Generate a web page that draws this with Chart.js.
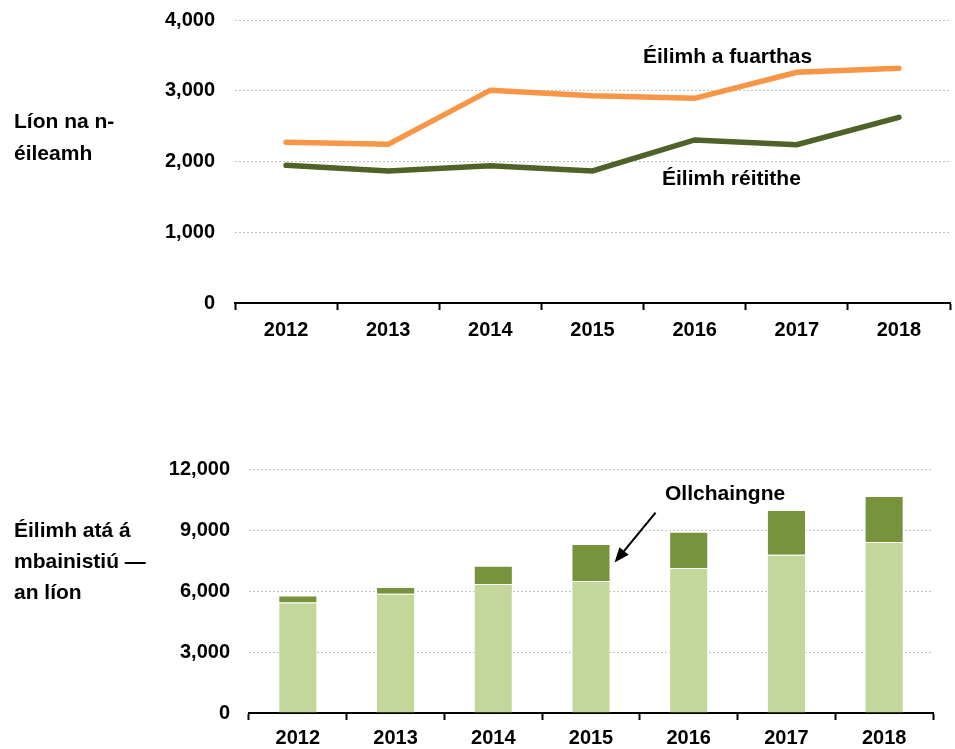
<!DOCTYPE html>
<html>
<head>
<meta charset="utf-8">
<script src="https://cdn.jsdelivr.net/npm/chart.js@4"></script>
<style>
  body { margin: 0; background: #fff; width: 955px; height: 749px; position: relative; overflow: hidden;
         font-family: Arial, "Liberation Sans", sans-serif; font-weight: bold; color: #000; }
  .box { position: absolute; }
  .lbl { position: absolute; font-size: 21px; white-space: nowrap; }
</style>
</head>
<body>
<div class="box" style="left:0;top:0;width:955px;height:345px"><canvas id="topChart"></canvas></div>
<div class="box" style="left:0;top:440px;width:955px;height:309px"><canvas id="bottomChart"></canvas></div>

<div class="lbl" style="left:14px;top:105px;line-height:32px">Líon na n-<br>éileamh</div>
<div class="lbl" style="left:14px;top:514px;line-height:31px">Éilimh atá á<br>mbainistiú —<br>an líon</div>
<div class="lbl" style="left:643px;top:44px;line-height:24px">Éilimh a fuarthas</div>
<div class="lbl" style="left:662px;top:166px;line-height:24px">Éilimh réitithe</div>
<div class="lbl" style="left:665px;top:481px;line-height:24px">Ollchaingne</div>

<script>
const years = ['2012', '2013', '2014', '2015', '2016', '2017', '2018'];

// top chart: claims received / resolved
const received = [2271, 2243, 3008, 2928, 2893, 3261, 3317];
const resolved = [1946, 1866, 1940, 1866, 2304, 2238, 2625];

// bottom chart: claims under management
const managedBase = [5430, 5860, 6340, 6490, 7130, 7780, 8410];
const bulk = [350, 340, 900, 1820, 1790, 2200, 2260];

Chart.defaults.font.family = 'Arial, "Liberation Sans", sans-serif';
Chart.defaults.font.weight = 'bold';
Chart.defaults.font.size = 20;
Chart.defaults.color = '#000';
Chart.defaults.animation = false;

const gridGrey = '#c3c3c3';

function xAxis(height, pad) {
  return {
    offset: true,
    grid: { offset: true, drawOnChartArea: false, drawTicks: true, tickLength: 7,
            tickColor: '#000', tickWidth: 2 },
    border: { display: true, color: '#000', width: 2 },
    ticks: { padding: pad, maxRotation: 0, autoSkip: false },
    afterFit: (s) => { s.height = height; }
  };
}

function yAxis(max, step, width, pad) {
  return {
    min: 0, max: max,
    ticks: { stepSize: step, padding: pad },
    grid: { color: gridGrey, lineWidth: 1, drawTicks: false },
    border: { display: false, dash: [2, 2] },
    // fixed width; let layout.padding decide where the plot top sits
    afterFit: (s) => { s.width = width; s.paddingTop = 0; s.paddingBottom = 0; }
  };
}

new Chart(document.getElementById('topChart'), {
  type: 'line',
  data: {
    labels: years,
    datasets: [
      { label: 'Éilimh a fuarthas', data: received, borderColor: '#F79646',
        borderWidth: 5.5, pointRadius: 0, tension: 0, borderCapStyle: 'round' },
      { label: 'Éilimh réitithe', data: resolved, borderColor: '#4F6228',
        borderWidth: 5.5, pointRadius: 0, tension: 0, borderCapStyle: 'round' }
    ]
  },
  options: {
    responsive: true,
    maintainAspectRatio: false,
    layout: { padding: { left: 150, right: 5, top: 20, bottom: 0 } },
    plugins: { legend: { display: false }, tooltip: { enabled: false } },
    scales: {
      x: xAxis(42, 8),
      y: yAxis(4000, 1000, 85, 20)
    }
  }
});

// arrow from the "Ollchaingne" label to the 2015 bulk segment
const arrowPlugin = {
  id: 'arrow',
  afterDraw(chart) {
    const bar = chart.getDatasetMeta(1).data[3];
    if (!bar) return;
    const tipX = bar.x + bar.width / 2 + 4;
    const tipY = (bar.y + bar.base) / 2;
    const fromX = tipX + 41, fromY = tipY - 50;
    const ang = Math.atan2(tipY - fromY, tipX - fromX);
    const ctx = chart.ctx;
    ctx.save();
    ctx.strokeStyle = '#000';
    ctx.fillStyle = '#000';
    ctx.lineWidth = 2;
    ctx.beginPath();
    ctx.moveTo(fromX, fromY);
    ctx.lineTo(tipX - 10 * Math.cos(ang), tipY - 10 * Math.sin(ang));
    ctx.stroke();
    ctx.beginPath();
    ctx.moveTo(tipX, tipY);
    ctx.lineTo(tipX - 15 * Math.cos(ang) + 6 * Math.sin(ang), tipY - 15 * Math.sin(ang) - 6 * Math.cos(ang));
    ctx.lineTo(tipX - 15 * Math.cos(ang) - 6 * Math.sin(ang), tipY - 15 * Math.sin(ang) + 6 * Math.cos(ang));
    ctx.closePath();
    ctx.fill();
    ctx.restore();
  }
};

new Chart(document.getElementById('bottomChart'), {
  type: 'bar',
  data: {
    labels: years,
    datasets: [
      { label: 'Éilimh atá á mbainistiú', data: managedBase, backgroundColor: '#C4D79B',
        borderColor: 'rgba(255,255,255,0.45)', borderWidth: 1,
        barPercentage: 0.4, categoryPercentage: 1 },
      { label: 'Ollchaingne', data: bulk, backgroundColor: '#77933C',
        borderColor: 'rgba(255,255,255,0.45)', borderWidth: 1,
        barPercentage: 0.4, categoryPercentage: 1 }
    ]
  },
  options: {
    responsive: true,
    maintainAspectRatio: false,
    layout: { padding: { left: 150, right: 22, top: 29, bottom: 0 } },
    plugins: { legend: { display: false }, tooltip: { enabled: false } },
    scales: {
      x: Object.assign(xAxis(36, 6), { stacked: true }),
      y: Object.assign(yAxis(12000, 3000, 99, 19), { stacked: true })
    }
  },
  plugins: [arrowPlugin]
});
</script>
</body>
</html>
